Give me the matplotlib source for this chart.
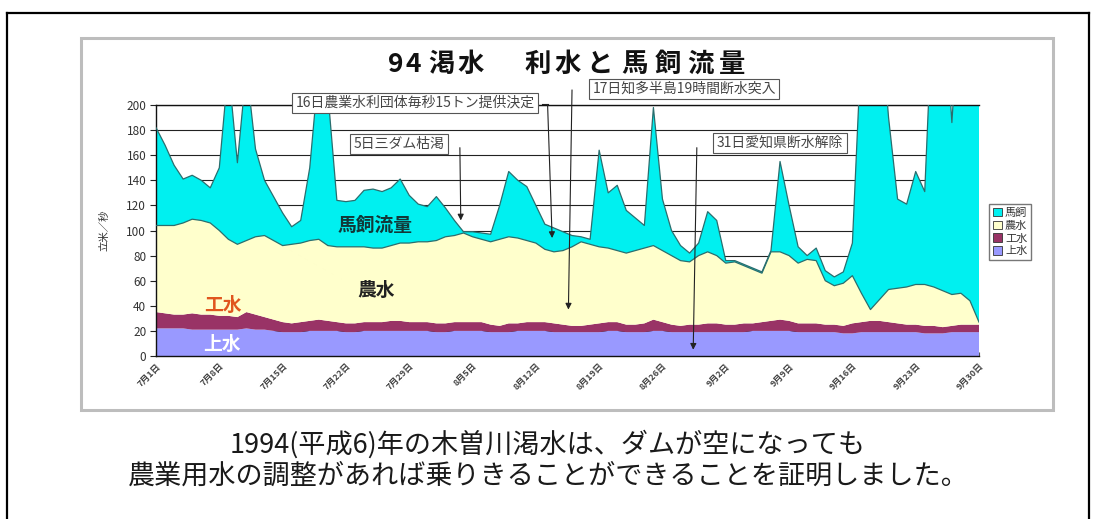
import matplotlib
matplotlib.use("Agg")
import matplotlib.pyplot as plt
from matplotlib.patches import Patch, Rectangle
from matplotlib.lines import Line2D
import numpy as np

plt.rcParams['font.family'] = ['Noto Sans CJK JP', 'DejaVu Sans']

# ---- data: daily flows (m3/s), 1 July - 30 September 1994 ----
tick_labels = ['7月1日', '7月8日', '7月15日', '7月22日', '7月29日', '8月5日', '8月12日',
               '8月19日', '8月26日', '9月2日', '9月9日', '9月16日', '9月23日', '9月30日']

series_names = ['上水', '工水', '農水', '馬飼']

josui = [22, 22, 22, 22, 21, 21, 21, 21, 21, 21, 22, 21, 21,
         20, 19, 19, 19, 20, 20, 20, 20, 19, 19,
         20, 20, 20, 20, 20, 20, 20, 20, 19, 19,
         20, 20, 20, 20, 19, 19, 19, 20, 20, 20,
         20, 19, 19, 19, 19, 19, 19, 20, 20, 19,
         19, 19, 20, 20, 19, 19, 19, 19, 19, 19,
         19, 19, 19, 20, 20, 20, 20, 20, 19, 19,
         19, 19, 19, 18, 18, 19, 19, 19, 19, 19,
         19, 19, 18, 18, 18, 19, 19, 19, 19]

kosui = [13, 12, 11, 11, 13, 12, 12, 11, 11, 10,
         13, 12, 10, 9, 8, 7, 8, 8, 9, 8,
         7, 7, 7, 7, 7, 7, 8, 8, 7, 7,
         7, 7, 7, 7, 7, 7, 7, 6, 5, 7,
         6, 7, 7, 7, 7, 6, 5, 5, 6, 7,
         7, 7, 6, 6, 7, 9, 7, 6, 5, 6,
         6, 7, 7, 6, 6, 7, 6, 7, 8, 9,
         8, 7, 7, 7, 6, 6, 6, 8, 8, 9,
         9, 8, 7, 6, 6, 6, 6, 5, 5, 6,
         6, 6]

nosui = [69, 70, 71, 73, 75, 75, 73, 68, 61, 58,
         57, 62, 65, 63, 61, 63, 63, 64, 64, 60,
         60, 61, 61, 60, 59, 59, 60, 62, 63, 64,
         64, 66, 69, 69, 71, 68, 66, 66, 69, 69,
         68, 65, 63, 58, 57, 59, 63, 67, 64, 61,
         59, 57, 57, 59, 60, 59, 57, 55, 52, 50,
         55, 57, 54, 49, 50, 46, 43, 39, 55, 54,
         52, 48, 51, 50, 35, 31, 34, 38, 23, 9,
         17, 26, 28, 30, 32, 33, 31, 29, 25, 25,
         19, 2]

umakai = [78, 64, 48, 35, 35, 32, 28, 50, 137, 65,
          138, 70, 44, 35, 26, 14, 18, 58, 137, 122,
          37, 36, 37, 45, 47, 45, 46, 51, 38, 30,
          28, 35, 23, 12, 1, 4, 5, 6, 27, 52,
          46, 43, 30, 20, 19, 15, 9, 4, 4, 77,
          44, 52, 34, 26, 18, 110, 41, 20, 12, 7,
          10, 32, 28, 2, 1, 1, 1, 1, 1, 72,
          40, 13, 3, 10, 8, 7, 9, 26, 200, 263,
          235, 137, 71, 66, 90, 74, 245, 248, 137, 250,
          256, 223]

days = np.arange(len(josui))

# ---- figure geometry (pixels) ----
W, H = 1096, 519
fig = plt.figure(figsize=(W / 100, H / 100), dpi=100)


def fx(x):
    return x / W


def fy(y):
    return 1 - y / H


# outer black frame and grey chart frame
fig.add_artist(Line2D([fx(7), fx(7)], [fy(13), 0], color='black', lw=1.6))
fig.add_artist(Line2D([fx(7), fx(1089)], [fy(13), fy(13)], color='black', lw=1.6))
fig.add_artist(Line2D([fx(1089), fx(1089)], [fy(13), 0], color='black', lw=1.6))
fig.add_artist(Rectangle((fx(81), fy(410)), fx(1053) - fx(81), fy(38) - fy(410),
                         fill=False, ec='#BDBDBD', lw=2.2))

# title, spaced character by character
title_chars = ['9', '4', '渇', '水', '利', '水', 'と', '馬', '飼', '流', '量']
title_x = [396, 413, 441, 471, 538, 568, 599, 635, 668, 700, 732]
for ch, x in zip(title_chars, title_x):
    fig.text(fx(x), fy(64), ch, ha='center', va='center', fontsize=19,
             fontweight='bold', color='#111111')

# ---- plot area ----
ax = fig.add_axes([fx(156), fy(356), fx(979) - fx(156), fy(105) - fy(356)])
colors = ['#9999FF', '#993366', '#FFFFCC', '#00F0F0']
ax.stackplot(days, josui, kosui, nosui, umakai, colors=colors, linewidth=0, zorder=2)

cum_nosui = np.array(josui) + np.array(kosui) + np.array(nosui)
cum_total = cum_nosui + np.array(umakai)
ax.plot(days, cum_nosui, color='#2A6E6E', lw=0.9, zorder=3)
ax.plot(days, cum_total, color='#2A6E6E', lw=0.9, zorder=3)

ax.set_xlim(0, days[-1])
ax.set_ylim(0, 200)
ax.set_yticks(range(0, 201, 20))
ax.yaxis.grid(True, color='#222222', lw=0.8, zorder=0)
ax.set_axisbelow(True)
ax.set_xticks(range(0, len(days), 7))
ax.set_xticklabels(tick_labels, rotation=45, ha='right', rotation_mode='anchor',
                   fontsize=6.5, color='#444444', fontweight='bold')
ax.tick_params(axis='x', direction='in', length=3, color='#555555', pad=4)
ax.tick_params(axis='y', direction='out', length=4, labelsize=8.5,
               labelcolor='#333333', color='#222222', pad=3)
ax.spines['right'].set_visible(False)
for s in ('left', 'bottom', 'top'):
    ax.spines[s].set_color('#111111')
    ax.spines[s].set_linewidth(1.0)
ax.set_ylabel('立米／秒', fontsize=7.5, color='#333333', labelpad=12)

# labels on the areas
ax.text(24.2, 104, '馬飼流量', fontsize=13.5, fontweight='bold', color='#123838',
        ha='center', va='center', zorder=5)
ax.text(24.3, 52.5, '農水', fontsize=13.5, fontweight='bold', color='#222222',
        ha='center', va='center', zorder=5)
ax.text(7.4, 40.5, '工水', fontsize=13.5, fontweight='bold', color='#E0561E',
        ha='center', va='center', zorder=5)
ax.text(7.3, 9, '上水', fontsize=13.5, fontweight='bold', color='white',
        ha='center', va='center', zorder=5)

# event notes with arrows
box = dict(boxstyle='square,pad=0.25', fc='white', ec='#555555', lw=0.8)
notes = [
    ('16日農業水利団体毎秒15トン提供決定', 415, 103, (43.3, 200), (43.8, 94)),
    ('17日知多半島19時間断水突入', 684, 89, (46.0, 212), (45.6, 37)),
    ('5日三ダム枯渇', 399, 144, (33.6, 166), (33.7, 108)),
    ('31日愛知県断水解除', 780, 143, (59.8, 166), (59.4, 5)),
]
for text, x, y, start, tip in notes:
    fig.text(fx(x), fy(y), text, ha='center', va='center', fontsize=10,
             color='#444444', bbox=box, zorder=6)
    ax.annotate('', xy=tip, xytext=start, annotation_clip=False,
                arrowprops=dict(arrowstyle='-|>', color='#222222', lw=0.8,
                                mutation_scale=9, shrinkA=0, shrinkB=0), zorder=6)
fig.add_artist(Line2D([fx(542), fx(548)], [fy(104), fy(104)], color='#222222', lw=0.8))

# legend (top series first)
handles = [Patch(fc=colors[i], ec='#333333', lw=0.6, label=series_names[i])
           for i in (3, 2, 1, 0)]
fig.legend(handles=handles, loc='center', bbox_to_anchor=(fx(1010), fy(232)),
           fontsize=8, frameon=True, fancybox=False, edgecolor='#555555',
           handlelength=0.8, handleheight=0.8, handletextpad=0.3,
           borderpad=0.35, labelspacing=0.25, labelcolor='#333333')

# caption
fig.text(fx(548), fy(444), '1994(平成6)年の木曽川渇水は、ダムが空になっても',
         ha='center', va='center', fontsize=19.5, color='#1A1A1A')
fig.text(fx(548), fy(476), '農業用水の調整があれば乗りきることができることを証明しました。',
         ha='center', va='center', fontsize=19.5, color='#1A1A1A')

fig.savefig('out.png', dpi=100)
